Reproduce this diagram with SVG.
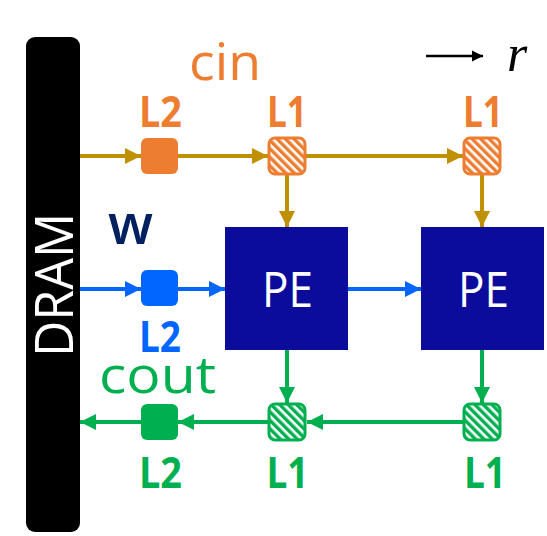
<svg xmlns="http://www.w3.org/2000/svg" width="547" height="536" viewBox="0 0 547 536">
<defs>
<style>
.lbl{font-family:"Open Sans","Noto Sans","Liberation Sans",sans-serif;font-weight:bold;font-size:43px;text-anchor:middle}
.big{font-family:"Open Sans","Noto Sans","Liberation Sans",sans-serif;font-size:52px}
.pe{fill:#0C0C9C}
.pet{font-family:"Open Sans","Noto Sans","Liberation Sans",sans-serif;font-size:50px;fill:#fff;text-anchor:middle}
.gold{stroke:#BF9000;stroke-width:4;fill:none}
.blue{stroke:#0066FF;stroke-width:4;fill:none}
.green{stroke:#00B050;stroke-width:4;fill:none}
</style>
<pattern id="hatchO" width="6" height="6" patternUnits="userSpaceOnUse" patternTransform="rotate(45)">
<rect width="6" height="6" fill="#ED7D31"/><rect width="6" height="2.6" fill="#fff"/>
</pattern>
<pattern id="hatchG" width="6" height="6" patternUnits="userSpaceOnUse" patternTransform="rotate(45)">
<rect width="6" height="6" fill="#00B050"/><rect width="6" height="2.6" fill="#fff"/>
</pattern>
<marker id="aGold" viewBox="0 0 10 10" refX="10" refY="5" markerWidth="4" markerHeight="4" orient="auto" markerUnits="strokeWidth"><path d="M0,0L10,5L0,10z" fill="#BF9000"/></marker>
<marker id="aBlue" viewBox="0 0 10 10" refX="10" refY="5" markerWidth="4" markerHeight="4" orient="auto" markerUnits="strokeWidth"><path d="M0,0L10,5L0,10z" fill="#0066FF"/></marker>
<marker id="aGreen" viewBox="0 0 10 10" refX="10" refY="5" markerWidth="4" markerHeight="4" orient="auto" markerUnits="strokeWidth"><path d="M0,0L10,5L0,10z" fill="#00B050"/></marker>
<marker id="aBlack" viewBox="0 0 10 10" refX="10" refY="5" markerWidth="4.5" markerHeight="4.5" orient="auto" markerUnits="strokeWidth"><path d="M0,0L10,5L0,10z" fill="#000"/></marker>
</defs>
<rect width="547" height="536" fill="#fff"/>

<g id="connectors">
<line class="gold" x1="80" y1="156" x2="141" y2="156" marker-end="url(#aGold)"/>
<line class="gold" x1="178" y1="156" x2="268" y2="156" marker-end="url(#aGold)"/>
<line class="gold" x1="306" y1="156" x2="463" y2="156" marker-end="url(#aGold)"/>
<line class="gold" x1="287" y1="175" x2="287" y2="227" marker-end="url(#aGold)"/>
<line class="gold" x1="482" y1="175" x2="482" y2="227" marker-end="url(#aGold)"/>
<line class="blue" x1="80" y1="289" x2="141" y2="289" marker-end="url(#aBlue)"/>
<line class="blue" x1="178" y1="289" x2="225" y2="289" marker-end="url(#aBlue)"/>
<line class="blue" x1="348" y1="289" x2="421" y2="289" marker-end="url(#aBlue)"/>
<line class="green" x1="287" y1="350" x2="287" y2="403" marker-end="url(#aGreen)"/>
<line class="green" x1="482" y1="350" x2="482" y2="403" marker-end="url(#aGreen)"/>
<line class="green" x1="463" y1="422" x2="307" y2="422" marker-end="url(#aGreen)"/>
<line class="green" x1="268" y1="422" x2="178" y2="422" marker-end="url(#aGreen)"/>
<line class="green" x1="141" y1="422" x2="80" y2="422" marker-end="url(#aGreen)"/>
<line x1="426" y1="56" x2="483" y2="56" stroke="#000" stroke-width="2.5" marker-end="url(#aBlack)"/>
</g>

<g id="dram">
<rect x="26" y="37" width="54" height="495" rx="9" fill="#000"/>
<text transform="translate(73,285) rotate(-90)" font-family="'Open Sans','Noto Sans','Liberation Sans',sans-serif" font-size="53" text-anchor="middle" fill="#fff" textLength="144" lengthAdjust="spacingAndGlyphs">DRAM</text>
</g>

<g id="cin-label"><text class="big" x="225" y="80" fill="#ED7D31" text-anchor="middle" textLength="72" lengthAdjust="spacingAndGlyphs">cin</text></g>
<g id="w-label"><text x="130.5" y="244" font-family="'Open Sans','Noto Sans','Liberation Sans',sans-serif" font-weight="600" font-size="56" fill="#002060" text-anchor="middle" textLength="45" lengthAdjust="spacingAndGlyphs">w</text></g>
<g id="cout-label"><text class="big" x="157.5" y="393" fill="#00B050" text-anchor="middle" textLength="117" lengthAdjust="spacingAndGlyphs">cout</text></g>
<g id="r-label"><text x="517" y="71" font-family="'Liberation Serif',serif" font-style="italic" font-size="52" text-anchor="middle" fill="#000">r</text></g>

<g id="cin-L2">
<rect x="141" y="138" width="37" height="36" rx="6" fill="#ED7D31"/>
<text class="lbl" x="160.5" y="127" fill="#ED7D31" textLength="43" lengthAdjust="spacingAndGlyphs">L2</text>
</g>
<g id="cin-L1a">
<rect x="269" y="138" width="36" height="36" rx="6" fill="url(#hatchO)" stroke="#ED7D31" stroke-width="3"/>
<text class="lbl" x="287" y="127" fill="#ED7D31" textLength="40" lengthAdjust="spacingAndGlyphs">L1</text>
</g>
<g id="cin-L1b">
<rect x="464" y="138" width="36" height="36" rx="6" fill="url(#hatchO)" stroke="#ED7D31" stroke-width="3"/>
<text class="lbl" x="483" y="127" fill="#ED7D31" textLength="40" lengthAdjust="spacingAndGlyphs">L1</text>
</g>

<g id="w-L2">
<rect x="141" y="270" width="37" height="36" rx="6" fill="#0066FF"/>
<text class="lbl" x="160" y="352" fill="#0066FF" font-size="41" textLength="42" lengthAdjust="spacingAndGlyphs">L2</text>
</g>

<g id="pe1">
<rect class="pe" x="225" y="227" width="123" height="123"/>
<text class="pet" x="287.5" y="307" textLength="51" lengthAdjust="spacingAndGlyphs">PE</text>
</g>
<g id="pe2">
<rect class="pe" x="421" y="227" width="123" height="123"/>
<text class="pet" x="483.5" y="307" textLength="51" lengthAdjust="spacingAndGlyphs">PE</text>
</g>

<g id="cout-L2">
<rect x="141" y="404" width="37" height="36" rx="6" fill="#00B050"/>
<text class="lbl" x="160.5" y="488" fill="#00B050" textLength="43" lengthAdjust="spacingAndGlyphs">L2</text>
</g>
<g id="cout-L1a">
<rect x="269" y="404" width="36" height="36" rx="6" fill="url(#hatchG)" stroke="#00B050" stroke-width="3"/>
<text class="lbl" x="287.5" y="488" fill="#00B050" textLength="42" lengthAdjust="spacingAndGlyphs">L1</text>
</g>
<g id="cout-L1b">
<rect x="464" y="404" width="36" height="36" rx="6" fill="url(#hatchG)" stroke="#00B050" stroke-width="3"/>
<text class="lbl" x="485" y="488" fill="#00B050" textLength="42" lengthAdjust="spacingAndGlyphs">L1</text>
</g>
</svg>
